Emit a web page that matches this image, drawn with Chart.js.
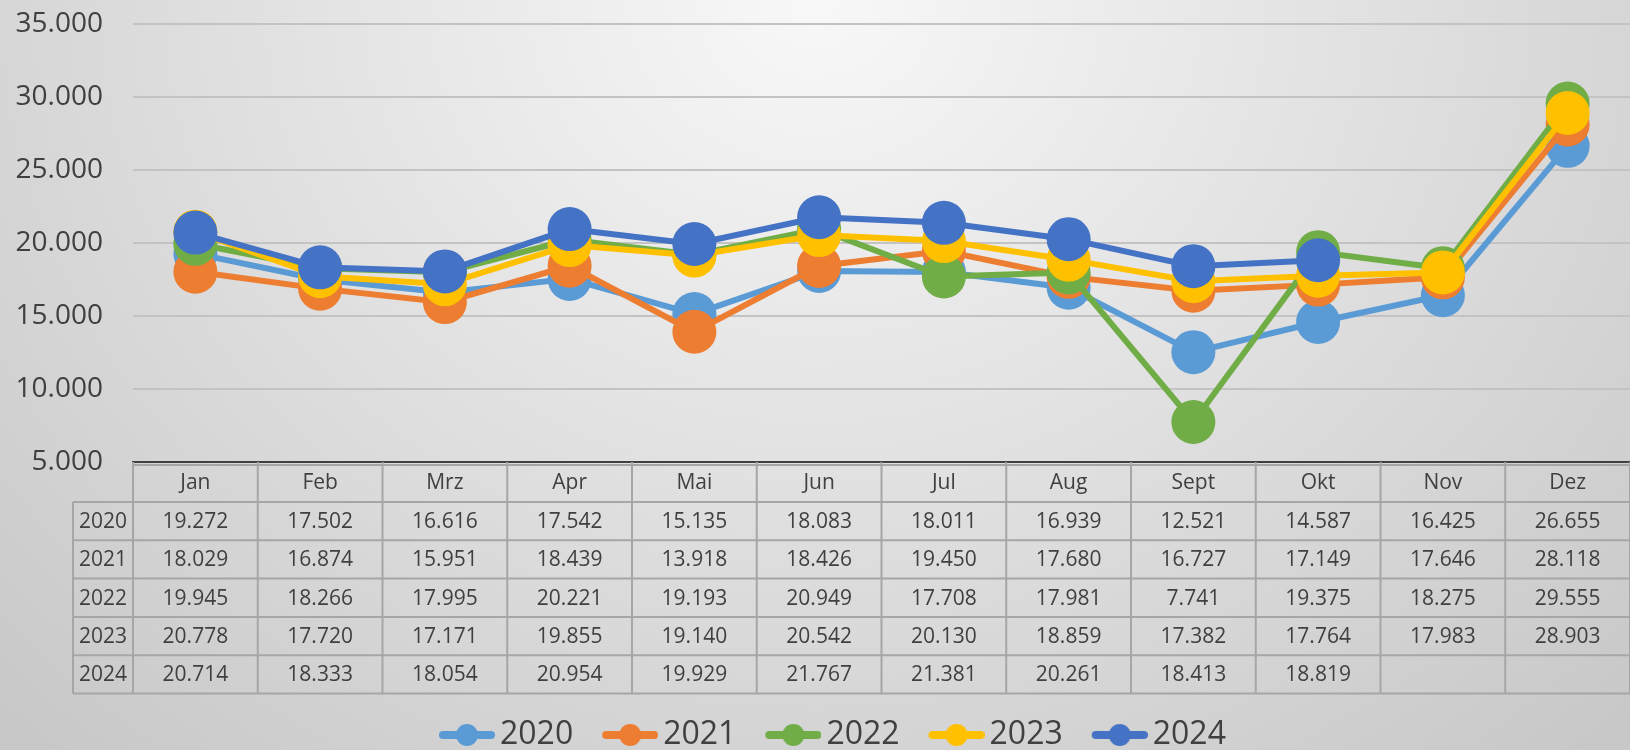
<!DOCTYPE html>
<html>
<head>
<meta charset="utf-8">
<script src="https://cdn.jsdelivr.net/npm/chart.js@4/dist/chart.umd.min.js"></script>
<style>
  html, body { margin: 0; padding: 0; }
  body {
    width: 1630px;
    height: 750px;
    overflow: hidden;
    background: radial-gradient(1150px 1000px at 50% 0%, #f8f8f8, #c8c8c8);
  }
</style>
</head>
<body>
<canvas id="line-chart" width="1630" height="750"></canvas>
<script>
const months = ["Jan", "Feb", "Mrz", "Apr", "Mai", "Jun", "Jul", "Aug", "Sept", "Okt", "Nov", "Dez"];
const years = ["2020", "2021", "2022", "2023", "2024"];
const colors = ["#5B9BD5", "#ED7D31", "#70AD47", "#FFC000", "#4472C4"];

const values2020 = [19272, 17502, 16616, 17542, 15135, 18083, 18011, 16939, 12521, 14587, 16425, 26655];
const values2021 = [18029, 16874, 15951, 18439, 13918, 18426, 19450, 17680, 16727, 17149, 17646, 28118];
const values2022 = [19945, 18266, 17995, 20221, 19193, 20949, 17708, 17981, 7741, 19375, 18275, 29555];
const values2023 = [20778, 17720, 17171, 19855, 19140, 20542, 20130, 18859, 17382, 17764, 17983, 28903];
const values2024 = [20714, 18333, 18054, 20954, 19929, 21767, 21381, 20261, 18413, 18819, null, null];
const allValues = [values2020, values2021, values2022, values2023, values2024];

const yMin = 5000;
const yMax = 35000;
const yStep = 5000;

const textColor = "#404040";
const fontFamily = "'Open Sans', 'Noto Sans', sans-serif";

// where the plot bottom and the legend text sit in the picture
const plotBottom = 462;
const legendTextX = 500;
const legendTextY = 735;
const legendPad = 18;
const markerW = 56;
const legendFont = 32;

const fmt = (v) => String(v).replace(/\B(?=(\d{3})+(?!\d))/g, ".");

// legend marker: line with a dot, drawn on the right part of a small canvas
const legendMarker = (color) => {
  const c = document.createElement("canvas");
  c.width = 78;
  c.height = 30;
  const ctx = c.getContext("2d");
  ctx.strokeStyle = color;
  ctx.lineWidth = 8;
  ctx.lineCap = "round";
  ctx.beginPath();
  ctx.moveTo(26, 15);
  ctx.lineTo(74, 15);
  ctx.stroke();
  ctx.fillStyle = color;
  ctx.beginPath();
  ctx.arc(50, 15, 11, 0, Math.PI * 2);
  ctx.fill();
  return c;
};

// nudge the legend box so it lands where the reference has it
const legendPlace = {
  id: "legendPlace",
  afterLayout(chart) {
    const lg = chart.legend;
    if (!lg || !lg.lineWidths) return;
    const itemH = Math.max(legendFont, lg.legendHitBoxes[0] ? lg.legendHitBoxes[0].height : legendFont);
    const startX = (lg.left + legendPad + lg.right - lg.lineWidths[0]) / 2;
    const dx = legendTextX - (startX + markerW + legendFont / 2);
    const dy = legendTextY - (lg.top + legendPad + itemH / 2);
    lg.left += dx;
    lg.right += dx;
    lg.top += dy;
    lg.bottom += dy;
  },
};

// data table under the plot, cells placed from the x scale
const dataTable = {
  id: "dataTable",
  afterDraw(chart) {
    const { ctx } = chart;
    const x = chart.scales.x;
    const top = x.top;
    const headH = 40;
    const rowH = 38.3;
    const labelLeft = 73;
    const colW = (x.right - x.left) / months.length;
    const bottom = top + headH + rowH * years.length;

    ctx.save();
    ctx.strokeStyle = "#a6a6a6";
    ctx.lineWidth = 2;
    ctx.beginPath();
    ctx.moveTo(x.left, top + 3);
    ctx.lineTo(x.right, top + 3);
    for (let r = 0; r <= years.length; r++) {
      const y = top + headH + r * rowH;
      ctx.moveTo(labelLeft, y);
      ctx.lineTo(x.right, y);
    }
    ctx.moveTo(labelLeft, top + headH);
    ctx.lineTo(labelLeft, bottom);
    for (let i = 0; i <= months.length; i++) {
      const cx = x.left + i * colW;
      ctx.moveTo(cx, top);
      ctx.lineTo(cx, bottom);
    }
    ctx.stroke();

    ctx.fillStyle = textColor;
    ctx.font = "21px " + fontFamily;
    ctx.textAlign = "center";
    ctx.textBaseline = "middle";
    months.forEach((m, i) => {
      ctx.fillText(m, x.getPixelForValue(i), top + headH / 2 + 1);
    });
    years.forEach((yr, r) => {
      const cy = top + headH + r * rowH + rowH / 2 + 1;
      ctx.fillText(yr, (labelLeft + x.left) / 2, cy);
      allValues[r].forEach((v, i) => {
        if (v !== null) ctx.fillText(fmt(v), x.getPixelForValue(i), cy);
      });
    });
    ctx.restore();
  },
};

const datasets = years.map((yr, i) => ({
  label: yr,
  data: allValues[i],
  borderColor: colors[i],
  backgroundColor: colors[i],
  pointBackgroundColor: colors[i],
  pointBorderWidth: 0,
  pointRadius: 22,
  pointHoverRadius: 22,
  borderWidth: 6,
  tension: 0,
  clip: false,
  order: years.length - i,
}));

new Chart("line-chart", {
  type: "line",
  data: { labels: months, datasets: datasets },
  options: {
    responsive: false,
    animation: false,
    layout: { autoPadding: false, padding: { top: 24, right: 0, bottom: 0, left: 0 } },
    plugins: {
      tooltip: { enabled: false },
      legend: {
        position: "bottom",
        labels: {
          color: textColor,
          font: { family: fontFamily, size: legendFont },
          usePointStyle: true,
          pointStyleWidth: markerW,
          padding: legendPad,
          generateLabels: (chart) =>
            chart.data.datasets.map((ds, i) => ({
              text: ds.label,
              fillStyle: ds.borderColor,
              strokeStyle: ds.borderColor,
              fontColor: textColor,
              lineWidth: 0,
              pointStyle: legendMarker(ds.borderColor),
              datasetIndex: i,
              hidden: false,
            })),
        },
      },
    },
    scales: {
      x: {
        offset: true,
        grid: { display: false },
        border: { display: true, color: "#404040", width: 2 },
        ticks: { display: false },
        afterFit: (scale) => {
          scale.height = 750 - scale.chart.legend.height - plotBottom;
          scale.paddingLeft = 0;
          scale.paddingRight = 0;
        },
      },
      y: {
        min: yMin,
        max: yMax,
        border: { display: false },
        grid: { color: "#c3c3c3", lineWidth: 2, drawTicks: false },
        ticks: {
          stepSize: yStep,
          padding: 30,
          color: textColor,
          font: { family: fontFamily, size: 28 },
          callback: (v) => fmt(v),
        },
        afterFit: (scale) => {
          scale.width = 133;
          scale.paddingTop = 0;
          scale.paddingBottom = 0;
        },
      },
    },
  },
  plugins: [legendPlace, dataTable],
});
</script>
</body>
</html>
